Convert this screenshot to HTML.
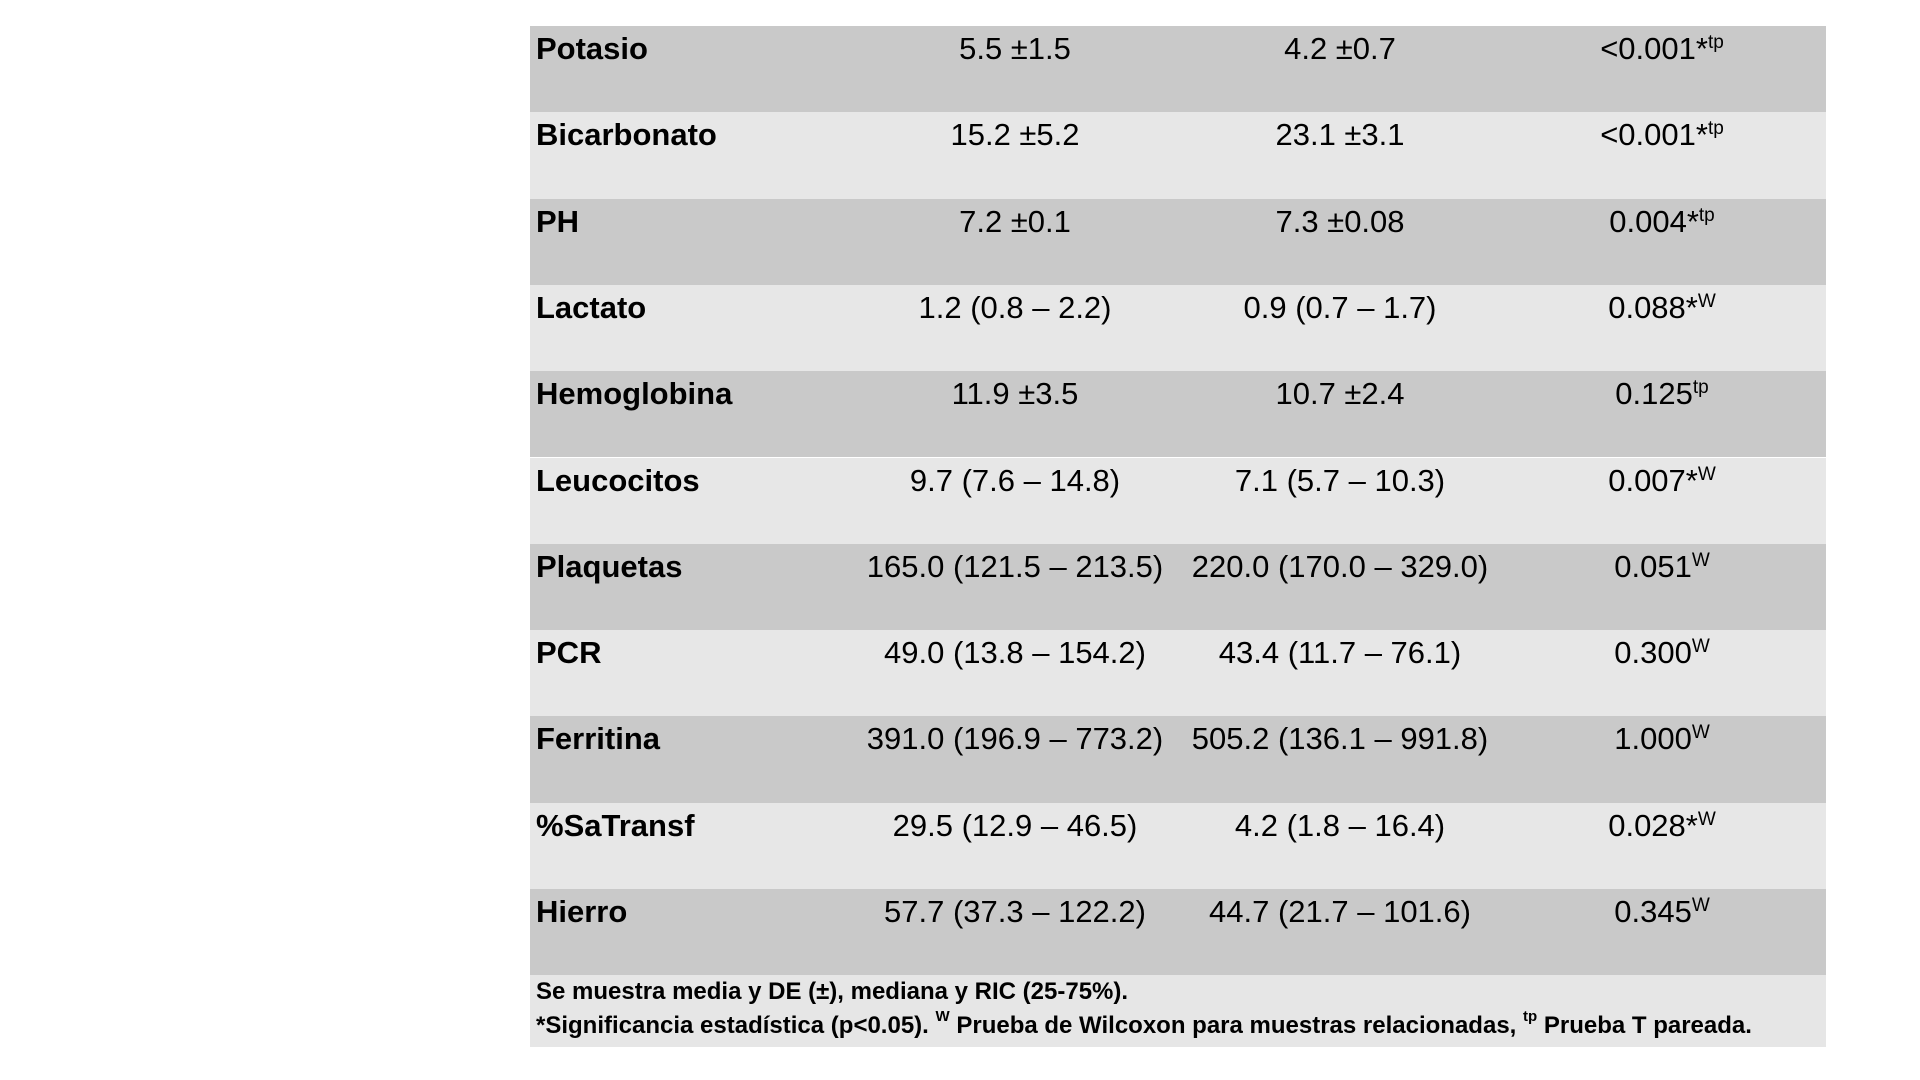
<!DOCTYPE html>
<html><head><meta charset="utf-8"><style>
body{margin:0;width:1920px;height:1080px;background:#fff;position:relative;overflow:hidden;font-family:"Liberation Sans",sans-serif;}
.row{position:absolute;left:530px;width:1296px;height:86.3px;}
.c{position:absolute;top:5px;font-size:31px;line-height:36px;color:#000;white-space:nowrap;}
.lab{left:6px;font-weight:bold;}
.v{transform:translateX(-50%);}
sup{font-size:19px;vertical-align:top;position:relative;top:-6px;}
.foot{position:absolute;left:530px;top:975px;width:1296px;height:72px;background:#e6e6e6;}
.foot div{position:absolute;left:6px;font-size:24px;font-weight:bold;white-space:nowrap;}
.foot sup{font-size:15px;top:-4px;}
</style></head><body>
<div id="tbl"></div>
<div class="foot">
<div style="top:3px">Se muestra media y DE (±), mediana y RIC (25-75%).</div>
<div style="top:37px">*Significancia estadística (p&lt;0.05). <sup>W</sup> Prueba de Wilcoxon para muestras relacionadas, <sup>tp</sup> Prueba T pareada.</div>
</div>
<script>
const labels=["Potasio","Bicarbonato","PH","Lactato","Hemoglobina","Leucocitos","Plaquetas","PCR","Ferritina","%SaTransf","Hierro"];
const col1=["5.5 ±1.5","15.2 ±5.2","7.2 ±0.1","1.2 (0.8 – 2.2)","11.9 ±3.5","9.7 (7.6 – 14.8)","165.0 (121.5 – 213.5)","49.0 (13.8 – 154.2)","391.0 (196.9 – 773.2)","29.5 (12.9 – 46.5)","57.7 (37.3 – 122.2)"];
const col2=["4.2 ±0.7","23.1 ±3.1","7.3 ±0.08","0.9 (0.7 – 1.7)","10.7 ±2.4","7.1 (5.7 – 10.3)","220.0 (170.0 – 329.0)","43.4 (11.7 – 76.1)","505.2 (136.1 – 991.8)","4.2 (1.8 – 16.4)","44.7 (21.7 – 101.6)"];
const pvals=["<0.001*","<0.001*","0.004*","0.088*","0.125","0.007*","0.051","0.300","1.000","0.028*","0.345"];
const tests=["tp","tp","tp","W","tp","W","W","W","W","W","W"];
const tbl=document.getElementById('tbl');
labels.forEach((l,i)=>{
  const r=document.createElement('div');
  r.className='row';
  
  
  r.style.top=(26+i*86.3)+'px';
  r.style.background=i%2===0?'#c9c9c9':'#e7e7e7';
  const a=document.createElement('div');a.className='c lab';a.textContent=l;
  
  
  const b=document.createElement('div');b.className='c v';b.style.left='485px';b.textContent=col1[i];
  
  
  const c=document.createElement('div');c.className='c v';c.style.left='810px';c.textContent=col2[i];
  
  
  const d=document.createElement('div');d.className='c v';d.style.left='1132px';
  d.textContent=pvals[i];
  const s=document.createElement('sup');s.textContent=tests[i];d.appendChild(s);
  
  
  r.append(a,b,c,d);tbl.appendChild(r);
});
</script>
</body></html>
